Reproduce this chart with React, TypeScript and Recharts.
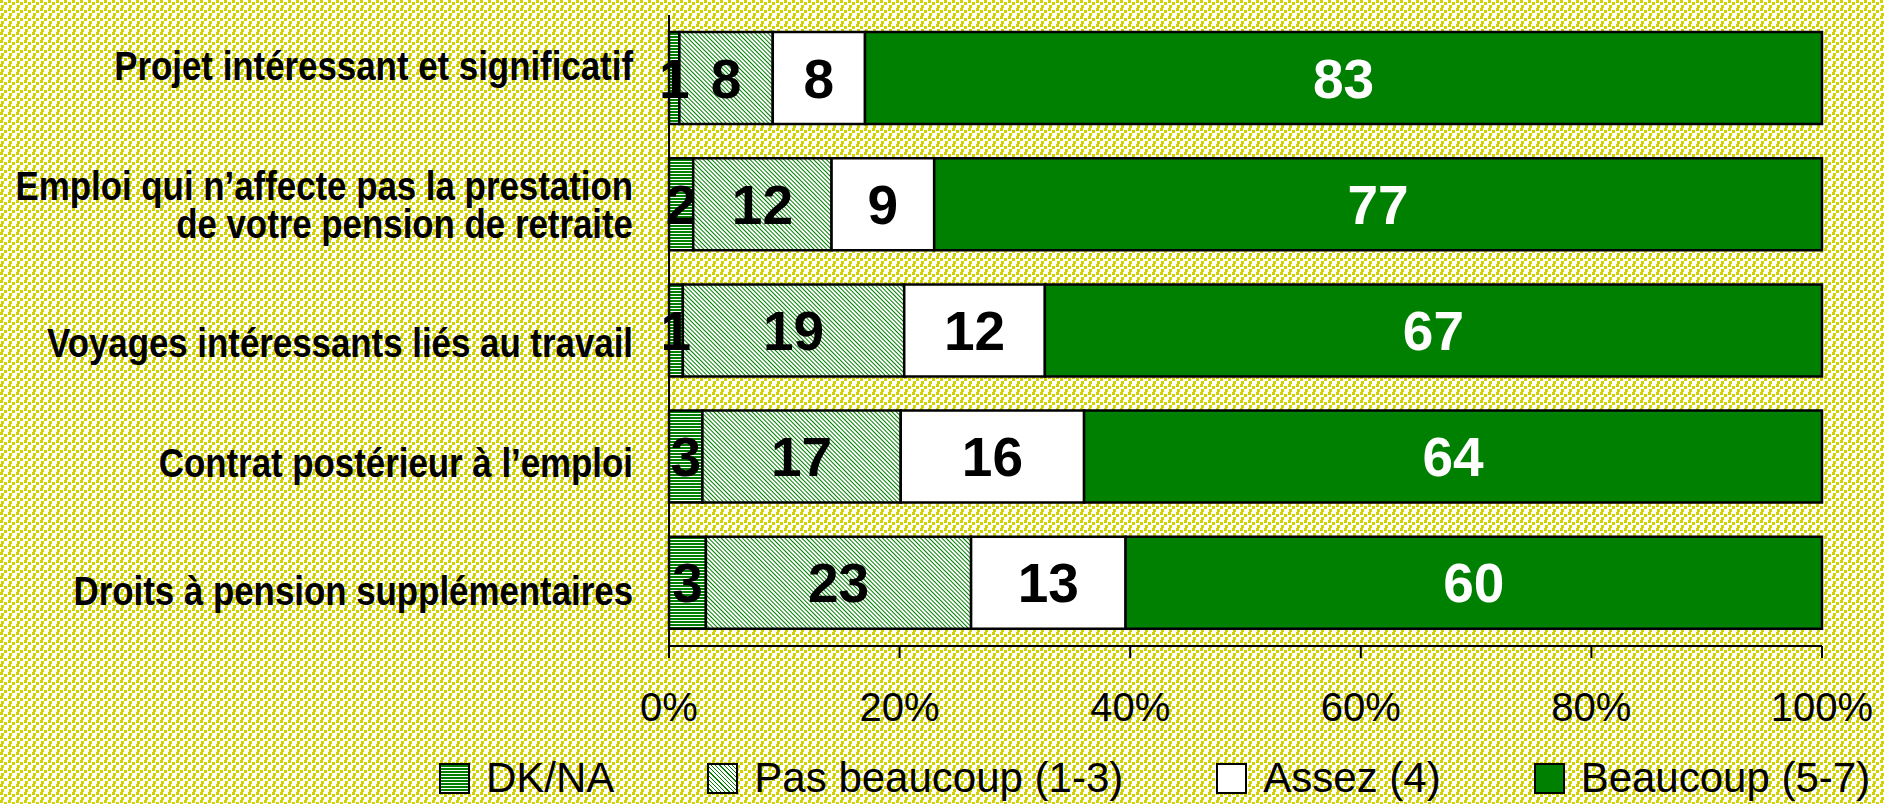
import React from 'react';
import { BarChart, Bar, XAxis, YAxis, Legend, LabelList } from 'recharts';

const categories = [
  'Projet intéressant et significatif',
  'Emploi qui n’affecte pas la prestation\nde votre pension de retraite',
  'Voyages intéressants liés au travail',
  'Contrat postérieur à l’emploi',
  'Droits à pension supplémentaires',
];
const dkna = [0.9, 2.1, 1.2, 2.9, 3.2];
const pasBeaucoup = [8.1, 12.0, 19.2, 17.2, 23.0];
const assez = [8.0, 8.9, 12.2, 15.9, 13.4];
const beaucoup = [83.0, 77.0, 67.4, 64.0, 60.4];
const xTicks = [0, 20, 40, 60, 80, 100];
const seriesNames = ['DK/NA', 'Pas beaucoup (1-3)', 'Assez (4)', 'Beaucoup (5-7)'];

const data = categories.map((name, i) => ({
  name,
  dk: dkna[i],
  pas: pasBeaucoup[i],
  assez: assez[i],
  beaucoup: beaucoup[i],
}));

const FONT = '"Liberation Sans", Arial, Helvetica, sans-serif';

const bgSvg =
  "<svg xmlns='http://www.w3.org/2000/svg' width='8' height='8'>" +
  "<rect width='8' height='8' fill='#ffffff'/>" +
  "<g fill='#d2d200'>" +
  "<rect x='0' y='0' width='3' height='3'/>" +
  "<rect x='4' y='2' width='3' height='3'/>" +
  "<rect x='1' y='5' width='3' height='3'/>" +
  '</g></svg>';
const bgUrl = `url("data:image/svg+xml,${encodeURIComponent(bgSvg)}")`;

const labelOffsets = [-13, 0, 12, 6, 7];

const YTick = (props: any) => {
  const { x, y, payload } = props;
  const idx = categories.indexOf(payload.value);
  const lines = String(payload.value).split('\n');
  const lh = 38;
  const cap = 29.4;
  const off = labelOffsets[idx] ?? 0;
  const first = y + off - ((lines.length - 1) * lh) / 2 + cap / 2;
  return (
    <g transform={`translate(${x - 28},0)`}>
      <text
        transform="scale(0.85,1)"
        textAnchor="end"
        fontFamily={FONT}
        fontWeight="bold"
        fontSize={41}
        fill="#000"
      >
        {lines.map((l, i) => (
          <tspan key={i} x={0} y={first + i * lh}>
            {l}
          </tspan>
        ))}
      </text>
    </g>
  );
};

const XTick = (props: any) => {
  const { x, y, payload } = props;
  return (
    <text x={x} y={y} dy={61} textAnchor="middle" fontFamily={FONT} fontSize={40} fill="#000">
      {`${payload.value}%`}
    </text>
  );
};

const makeLabel = (color: string) => (props: any) => {
  const { x, y, width, height, value } = props;
  return (
    <text
      x={x + width / 2}
      y={y + height / 2}
      dy={19.5}
      textAnchor="middle"
      fontFamily={FONT}
      fontWeight="bold"
      fontSize={55}
      fill={color}
    >
      {Math.round(value)}
    </text>
  );
};

const iconBg = [
  'repeating-linear-gradient(to bottom, #008000 0px, #008000 2px, #ffffff 2px, #ffffff 3px)',
  'repeating-linear-gradient(45deg, #ffffff 0px, #ffffff 2px, #008000 2px, #008000 3px)',
  '#ffffff',
  '#008000',
];

const LegendContent = () => (
  <div
    style={{
      display: 'flex',
      alignItems: 'center',
      fontFamily: FONT,
      fontSize: 42,
      lineHeight: '42px',
      whiteSpace: 'nowrap',
      color: '#000',
    }}
  >
    {seriesNames.map((n, i) => (
      <div key={n} style={{ display: 'flex', alignItems: 'center', marginRight: i < seriesNames.length - 1 ? 93 : 0 }}>
        <span
          style={{
            display: 'inline-block',
            width: 27,
            height: 27,
            border: '2px solid #000',
            background: iconBg[i],
            marginRight: 16,
          }}
        />
        <span>{n}</span>
      </div>
    ))}
  </div>
);

export default function App() {
  return (
    <div
      style={{
        position: 'absolute',
        left: 0,
        top: 0,
        width: 1884,
        height: 804,
        backgroundImage: bgUrl,
        overflow: 'hidden',
      }}
    >
      <BarChart
        width={1884}
        height={804}
        data={data}
        layout="vertical"
        margin={{ top: 15, right: 62, left: 0, bottom: 98 }}
        barSize={92}
      >
        <defs>
          <pattern id="pDk" width="4" height="3" patternUnits="userSpaceOnUse">
            <rect width="4" height="3" fill="#ffffff" />
            <rect width="4" height="2" fill="#008000" />
          </pattern>
          <pattern id="pPas" width="3" height="3" patternUnits="userSpaceOnUse" patternTransform="rotate(-45)">
            <rect width="3" height="3" fill="#ffffff" />
            <rect width="1" height="3" fill="#008000" />
          </pattern>
        </defs>
        <XAxis
          type="number"
          domain={[0, 100]}
          ticks={xTicks}
          interval={0}
          height={60}
          tickSize={12}
          axisLine={{ stroke: '#000', strokeWidth: 2 }}
          tickLine={{ stroke: '#000', strokeWidth: 2 }}
          tick={XTick}
        />
        <YAxis
          type="category"
          dataKey="name"
          width={669}
          interval={0}
          tickLine={false}
          axisLine={{ stroke: '#000', strokeWidth: 2 }}
          tick={YTick}
        />
        <Legend
          layout="horizontal"
          verticalAlign="middle"
          align="center"
          content={LegendContent}
          wrapperStyle={{ left: 439, top: 757, width: 'auto', height: 'auto' }}
        />
        <Bar dataKey="dk" name={seriesNames[0]} stackId="s" fill="url(#pDk)" stroke="#000" strokeWidth={2.5} isAnimationActive={false}>
          <LabelList dataKey="dk" content={makeLabel('#000')} />
        </Bar>
        <Bar dataKey="pas" name={seriesNames[1]} stackId="s" fill="url(#pPas)" stroke="#000" strokeWidth={2.5} isAnimationActive={false}>
          <LabelList dataKey="pas" content={makeLabel('#000')} />
        </Bar>
        <Bar dataKey="assez" name={seriesNames[2]} stackId="s" fill="#ffffff" stroke="#000" strokeWidth={2.5} isAnimationActive={false}>
          <LabelList dataKey="assez" content={makeLabel('#000')} />
        </Bar>
        <Bar dataKey="beaucoup" name={seriesNames[3]} stackId="s" fill="#008000" stroke="#000" strokeWidth={2.5} isAnimationActive={false}>
          <LabelList dataKey="beaucoup" content={makeLabel('#ffffff')} />
        </Bar>
      </BarChart>
    </div>
  );
}
